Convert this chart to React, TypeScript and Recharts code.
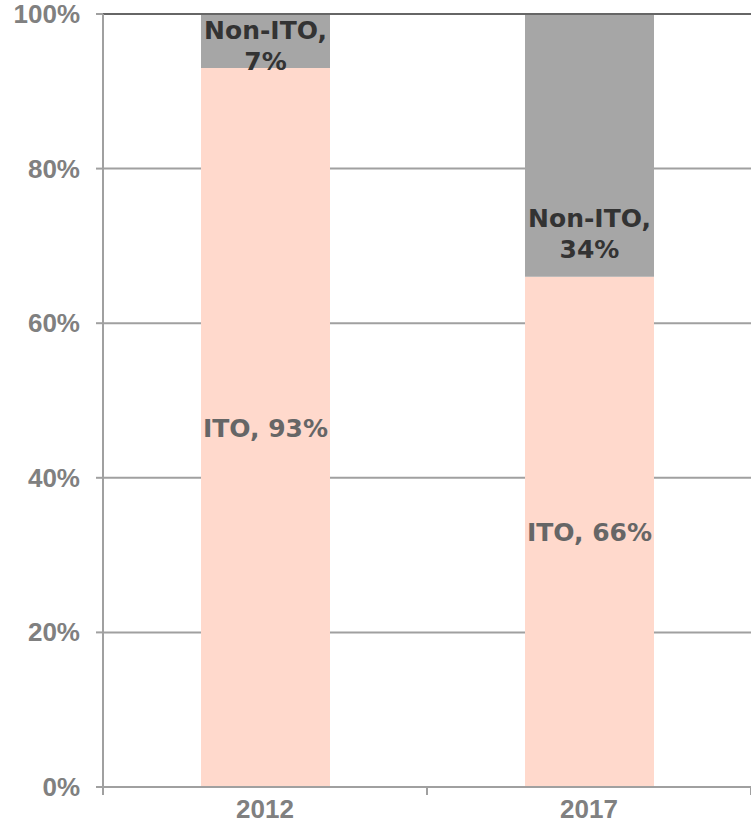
import React from "react";
import {
  BarChart,
  Bar,
  XAxis,
  YAxis,
  CartesianGrid,
  LabelList,
  ReferenceLine,
} from "recharts";

const years = ["2012", "2017"];
const itoShare = [93, 66];
const nonItoShare = [7, 34];
const yTicks = [0, 20, 40, 60, 80, 100];

const CHART_W = 751;
const CHART_H = 837;
const Y_AXIS_W = 103;
const X_AXIS_H = 50;

const AXIS_GREY = "#a0a0a0";
const AXIS_TEXT = "#808080";
const AXIS_FONT = "'Liberation Sans', Arial, sans-serif";
const LABEL_FONT = "'DejaVu Sans', Verdana, sans-serif";

const data = years.map((year, i) => ({
  year,
  ito: itoShare[i],
  nonIto: nonItoShare[i],
}));

const bandWidth = (CHART_W - Y_AXIS_W) / years.length;

function YearTick(props: any) {
  const { x, y, payload, index } = props;
  const left = x - bandWidth / 2;
  const right = x + bandWidth / 2;
  return (
    <g>
      <line x1={left} x2={left} y1={y - 8} y2={y} stroke={AXIS_GREY} strokeWidth={2} />
      {index === years.length - 1 && (
        <line x1={right} x2={right} y1={y - 8} y2={y} stroke={AXIS_GREY} strokeWidth={2} />
      )}
      <text
        x={x}
        y={y + 23}
        textAnchor="middle"
        fill={AXIS_TEXT}
        fontFamily={AXIS_FONT}
        fontWeight={700}
        fontSize={26}
      >
        {payload.value}
      </text>
    </g>
  );
}

function PercentTick(props: any) {
  const { x, y, payload } = props;
  return (
    <text
      x={x}
      y={y + 9}
      textAnchor="end"
      fill={AXIS_TEXT}
      fontFamily={AXIS_FONT}
      fontWeight={700}
      fontSize={26}
    >
      {`${payload.value}%`}
    </text>
  );
}

function ItoLabel(props: any) {
  const { x, y, width, height, value } = props;
  return (
    <text
      x={x + width / 2}
      y={y + height / 2 + 9}
      textAnchor="middle"
      fill="#666666"
      fontFamily={LABEL_FONT}
      fontWeight={700}
      fontSize={25}
    >
      {`ITO, ${value}%`}
    </text>
  );
}

function NonItoLabel(props: any) {
  const { x, y, width, height, value } = props;
  const bottom = y + height;
  const top = Math.max(y, bottom - 75);
  const cx = x + width / 2;
  return (
    <text
      textAnchor="middle"
      fill="#333333"
      fontFamily={LABEL_FONT}
      fontWeight={700}
      fontSize={25}
    >
      <tspan x={cx} y={top + 25}>Non-ITO,</tspan>
      <tspan x={cx} y={top + 56}>{`${value}%`}</tspan>
    </text>
  );
}

export default function App() {
  return (
    <div style={{ position: "absolute", left: 0, top: 0, background: "#fff" }}>
      <BarChart
        width={CHART_W}
        height={CHART_H}
        data={data}
        margin={{ top: 14, right: 0, left: 0, bottom: 0 }}
        barSize={129}
      >
        <CartesianGrid vertical={false} stroke={AXIS_GREY} strokeWidth={2} />
        <XAxis
          dataKey="year"
          height={X_AXIS_H}
          axisLine={{ stroke: AXIS_GREY, strokeWidth: 2 }}
          tickLine={false}
          tick={<YearTick />}
          interval={0}
        />
        <YAxis
          width={Y_AXIS_W}
          domain={[0, 100]}
          ticks={yTicks}
          axisLine={{ stroke: AXIS_GREY, strokeWidth: 2 }}
          tickLine={{ stroke: AXIS_GREY, strokeWidth: 2 }}
          tickSize={7}
          tickMargin={16}
          tick={<PercentTick />}
        />
        <Bar dataKey="ito" stackId="share" fill="#ffd9cc" isAnimationActive={false}>
          <LabelList dataKey="ito" content={<ItoLabel />} />
        </Bar>
        <Bar dataKey="nonIto" stackId="share" fill="#a6a6a6" isAnimationActive={false}>
          <LabelList dataKey="nonIto" content={<NonItoLabel />} />
        </Bar>
        <ReferenceLine y={100} stroke="#666666" strokeWidth={2} />
      </BarChart>
    </div>
  );
}
